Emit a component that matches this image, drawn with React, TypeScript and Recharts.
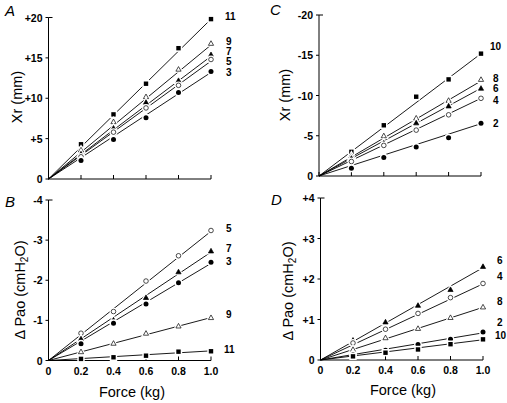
import { ComposedChart, Line, Scatter, XAxis, YAxis } from 'recharts';

const W = 507;
const H = 403;
const FONT = 'Arial, "Liberation Sans", Helvetica, sans-serif';
const AX = 30;
const Y_TICK = 3;
const Y_GAP = 3;

const force = [0.2, 0.4, 0.6, 0.8, 1.0];
const forceTicks = [0, 0.2, 0.4, 0.6, 0.8, 1.0];

// panel A - Xr (mm), positive
const xrA11 = [4.3, 8.0, 11.8, 16.2, 19.8];
const xrA9 = [3.6, 7.1, 10.2, 13.6, 16.8];
const xrA7 = [3.1, 6.3, 9.5, 12.2, 15.4];
const xrA5 = [2.75, 5.8, 8.8, 11.6, 14.8];
const xrA3 = [2.3, 4.9, 7.6, 10.7, 13.3];
const fitA = [19.8, 16.6, 15.2, 14.6, 13.2];

// panel B - delta Pao, negative
const paoB5 = [-0.68, -1.22, -1.98, -2.61, -3.24];
const paoB7 = [-0.54, -1.01, -1.57, -2.21, -2.73];
const paoB3 = [-0.42, -0.93, -1.41, -1.94, -2.45];
const paoB9 = [-0.22, -0.43, -0.68, -0.86, -1.07];
const paoB11 = [-0.04, -0.08, -0.12, -0.22, -0.23];
const fitB = [-3.22, -2.7, -2.42, -1.07, -0.24];

// panel C - Xr (mm), negative
const xrC10 = [-3.0, -6.3, -9.85, -12.0, -15.2];
const xrC8 = [-2.5, -5.0, -7.2, -9.4, -12.0];
const xrC6 = [-2.2, -4.1, -6.6, -8.7, -10.9];
const xrC4 = [-1.8, -3.8, -5.7, -7.6, -9.65];
const xrC2 = [-0.95, -2.3, -3.6, -4.75, -6.55];
const fitC = [-15.2, -11.8, -10.9, -9.65, -6.5];

// panel D - delta Pao, positive
const paoD6 = [0.49, 0.94, 1.35, 1.74, 2.31];
const paoD4 = [0.42, 0.76, 1.15, 1.54, 1.89];
const paoD8 = [0.26, 0.55, 0.78, 1.05, 1.31];
const paoD2 = [0.13, 0.24, 0.38, 0.51, 0.69];
const paoD10 = [0.09, 0.18, 0.26, 0.39, 0.51];
const fitD = [2.28, 1.88, 1.3, 0.67, 0.5];

type Mark = 'sq' | 'otri' | 'tri' | 'oc' | 'c';

interface Series {
  name: string;
  values: number[];
  fit: number;
  mark: Mark;
}

const seriesA: Series[] = [
  { name: '11', values: xrA11, fit: fitA[0], mark: 'sq' },
  { name: '9', values: xrA9, fit: fitA[1], mark: 'otri' },
  { name: '7', values: xrA7, fit: fitA[2], mark: 'tri' },
  { name: '5', values: xrA5, fit: fitA[3], mark: 'oc' },
  { name: '3', values: xrA3, fit: fitA[4], mark: 'c' },
];
const seriesB: Series[] = [
  { name: '5', values: paoB5, fit: fitB[0], mark: 'oc' },
  { name: '7', values: paoB7, fit: fitB[1], mark: 'tri' },
  { name: '3', values: paoB3, fit: fitB[2], mark: 'c' },
  { name: '9', values: paoB9, fit: fitB[3], mark: 'otri' },
  { name: '11', values: paoB11, fit: fitB[4], mark: 'sq' },
];
const seriesC: Series[] = [
  { name: '10', values: xrC10, fit: fitC[0], mark: 'sq' },
  { name: '8', values: xrC8, fit: fitC[1], mark: 'otri' },
  { name: '6', values: xrC6, fit: fitC[2], mark: 'tri' },
  { name: '4', values: xrC4, fit: fitC[3], mark: 'oc' },
  { name: '2', values: xrC2, fit: fitC[4], mark: 'c' },
];
const seriesD: Series[] = [
  { name: '6', values: paoD6, fit: fitD[0], mark: 'tri' },
  { name: '4', values: paoD4, fit: fitD[1], mark: 'oc' },
  { name: '8', values: paoD8, fit: fitD[2], mark: 'otri' },
  { name: '2', values: paoD2, fit: fitD[3], mark: 'c' },
  { name: '10', values: paoD10, fit: fitD[4], mark: 'sq' },
];

const tickStyle = { fill: '#000', fontSize: 10.5, fontWeight: 700, fontFamily: FONT } as const;

function Marker({ cx, cy, mark }: { cx: number; cy: number; mark: Mark }) {
  if (cx == null || cy == null) return null;
  const open = mark === 'otri' || mark === 'oc';
  const fill = open ? '#fff' : '#000';
  if (mark === 'sq') {
    return (
      <g>
        <rect x={cx - 2.2} y={cy - 2.2} width={4.4} height={4.4} fill="#fff" stroke="#fff" strokeWidth={3} />
        <rect x={cx - 2.2} y={cy - 2.2} width={4.4} height={4.4} fill="#000" />
      </g>
    );
  }
  if (mark === 'tri' || mark === 'otri') {
    const pts = `${cx},${cy - 2.6} ${cx + 2.6},${cy + 2} ${cx - 2.6},${cy + 2}`;
    return (
      <g>
        <polygon points={pts} fill="#fff" stroke="#fff" strokeWidth={3} />
        <polygon points={pts} fill={fill} stroke="#000" strokeWidth={0.7} />
      </g>
    );
  }
  return (
    <g>
      <circle cx={cx} cy={cy} r={3.9} fill="#fff" />
      <circle cx={cx} cy={cy} r={open ? 2.3 : 2.5} fill={fill} stroke="#000" strokeWidth={open ? 0.7 : 0} />
    </g>
  );
}

// y tick label, plus the short inward cap on the top tick
function YTick(props: any) {
  const { x, y, payload, fmt, top } = props;
  const axisX = x + Y_TICK + Y_GAP;
  return (
    <g>
      <text x={x} y={y} textAnchor="end" dominantBaseline="central" style={tickStyle}>
        {fmt(payload.value)}
      </text>
      {payload.value === top && <line x1={axisX} x2={axisX + 4} y1={y} y2={y} stroke="#000" />}
    </g>
  );
}

interface PanelProps {
  box: { l: number; r: number; t: number; b: number };
  domain: [number, number];
  ticks: number[];
  reversed?: boolean;
  fmt: (v: number) => string;
  series: Series[];
  xLabels: boolean;
}

function Panel({ box, domain, ticks, reversed, fmt, series, xLabels }: PanelProps) {
  const top = reversed ? domain[0] : domain[1];
  return (
    <div style={{ position: 'absolute', left: 0, top: 0 }}>
      <ComposedChart
        width={W}
        height={H}
        margin={{ left: box.l - AX, right: W - box.r, top: box.t, bottom: H - box.b - AX }}
      >
        <XAxis
          type="number"
          dataKey="x"
          domain={[0, 1]}
          ticks={forceTicks}
          interval={0}
          height={AX}
          tickSize={-4}
          tickMargin={11}
          stroke="#000"
          tick={tickStyle}
          tickFormatter={(v: number) => (xLabels ? (v === 0 ? '0' : v.toFixed(1)) : '')}
        />
        <YAxis
          type="number"
          dataKey="y"
          domain={domain}
          ticks={ticks}
          interval={0}
          reversed={reversed}
          width={AX}
          tickSize={Y_TICK}
          tickMargin={Y_GAP}
          stroke="#000"
          tick={(p: any) => <YTick {...p} fmt={fmt} top={top} />}
        />
        {series.map((s) => (
          <Line
            key={'l' + s.name}
            data={[
              { x: 0, y: 0 },
              { x: 1, y: s.fit },
            ]}
            dataKey="y"
            stroke="#000"
            strokeWidth={0.9}
            dot={false}
            activeDot={false}
            isAnimationActive={false}
          />
        ))}
        {series.map((s) => (
          <Scatter
            key={'s' + s.name}
            data={force.map((f, i) => ({ x: f, y: s.values[i] }))}
            dataKey="y"
            isAnimationActive={false}
            shape={(p: any) => <Marker cx={p.cx} cy={p.cy} mark={s.mark} />}
          />
        ))}
      </ComposedChart>
    </div>
  );
}

const plus = (v: number) => (v === 0 ? '0' : '+' + v);
const minus = (v: number) => (v === 0 ? '0' : String(v));

const labelStyle = { fontFamily: FONT, fontSize: 10, fontWeight: 700, fill: '#000' } as const;
const titleStyle = { fontFamily: FONT, fontSize: 14.5, fill: '#000' } as const;
const letterStyle = { fontFamily: FONT, fontSize: 15, fontStyle: 'italic', fill: '#000' } as const;

function PaoTitle({ x, y }: { x: number; y: number }) {
  return (
    <text x={x} y={y} transform={`rotate(-90 ${x} ${y})`} textAnchor="middle" dominantBaseline="central" style={titleStyle}>
      {'\u0394 Pao (cmH'}
      <tspan fontSize={10} dy={4}>2</tspan>
      <tspan dy={-4}>O)</tspan>
    </text>
  );
}

export default function App() {
  return (
    <div style={{ position: 'absolute', left: 0, top: 0, width: W, height: H, background: '#fff' }}>
      <Panel
        box={{ l: 48.5, r: 211, t: 17.5, b: 179 }}
        domain={[0, 20]}
        ticks={[0, 5, 10, 15, 20]}
        fmt={plus}
        series={seriesA}
        xLabels={false}
      />
      <Panel
        box={{ l: 48.5, r: 211, t: 200, b: 360.5 }}
        domain={[-4, 0]}
        ticks={[-4, -3, -2, -1, 0]}
        reversed
        fmt={minus}
        series={seriesB}
        xLabels
      />
      <Panel
        box={{ l: 319, r: 481, t: 15, b: 176 }}
        domain={[-20, 0]}
        ticks={[-20, -15, -10, -5, 0]}
        reversed
        fmt={minus}
        series={seriesC}
        xLabels={false}
      />
      <Panel
        box={{ l: 320.5, r: 483, t: 198, b: 360 }}
        domain={[0, 4]}
        ticks={[0, 1, 2, 3, 4]}
        fmt={plus}
        series={seriesD}
        xLabels
      />
      <svg width={W} height={H} style={{ position: 'absolute', left: 0, top: 0, pointerEvents: 'none' }}>
        <text x={5} y={16} style={letterStyle}>A</text>
        <text x={5} y={207} style={letterStyle}>B</text>
        <text x={270} y={15} style={letterStyle}>C</text>
        <text x={271} y={205} style={letterStyle}>D</text>

        <text x={17} y={97} transform="rotate(-90 17 97)" textAnchor="middle" dominantBaseline="central" style={titleStyle}>Xr (mm)</text>
        <text x={285} y={95} transform="rotate(-90 285 95)" textAnchor="middle" dominantBaseline="central" style={titleStyle}>Xr (mm)</text>
        <PaoTitle x={20} y={290} />
        <PaoTitle x={288} y={291} />
        <text x={132} y={392} textAnchor="middle" dominantBaseline="central" style={titleStyle}>Force (kg)</text>
        <text x={403} y={390} textAnchor="middle" dominantBaseline="central" style={titleStyle}>Force (kg)</text>

        <text x={225} y={16} dominantBaseline="central" style={labelStyle}>11</text>
        <text x={226} y={41.5} dominantBaseline="central" style={labelStyle}>9</text>
        <text x={226} y={51.5} dominantBaseline="central" style={labelStyle}>7</text>
        <text x={226} y={61.5} dominantBaseline="central" style={labelStyle}>5</text>
        <text x={226} y={72.7} dominantBaseline="central" style={labelStyle}>3</text>

        <text x={226} y={228.3} dominantBaseline="central" style={labelStyle}>5</text>
        <text x={226} y={248.3} dominantBaseline="central" style={labelStyle}>7</text>
        <text x={226} y={261} dominantBaseline="central" style={labelStyle}>3</text>
        <text x={226} y={314} dominantBaseline="central" style={labelStyle}>9</text>
        <text x={224} y={349} dominantBaseline="central" style={labelStyle}>11</text>

        <text x={490} y={46.7} dominantBaseline="central" style={labelStyle}>10</text>
        <text x={493} y={78} dominantBaseline="central" style={labelStyle}>8</text>
        <text x={493} y={88.5} dominantBaseline="central" style={labelStyle}>6</text>
        <text x={493} y={100} dominantBaseline="central" style={labelStyle}>4</text>
        <text x={493} y={123.3} dominantBaseline="central" style={labelStyle}>2</text>

        <text x={497} y={260} dominantBaseline="central" style={labelStyle}>6</text>
        <text x={497} y={276.7} dominantBaseline="central" style={labelStyle}>4</text>
        <text x={497} y={301} dominantBaseline="central" style={labelStyle}>8</text>
        <text x={497} y={322.7} dominantBaseline="central" style={labelStyle}>2</text>
        <text x={495} y={335} dominantBaseline="central" style={labelStyle}>10</text>
      </svg>
    </div>
  );
}
